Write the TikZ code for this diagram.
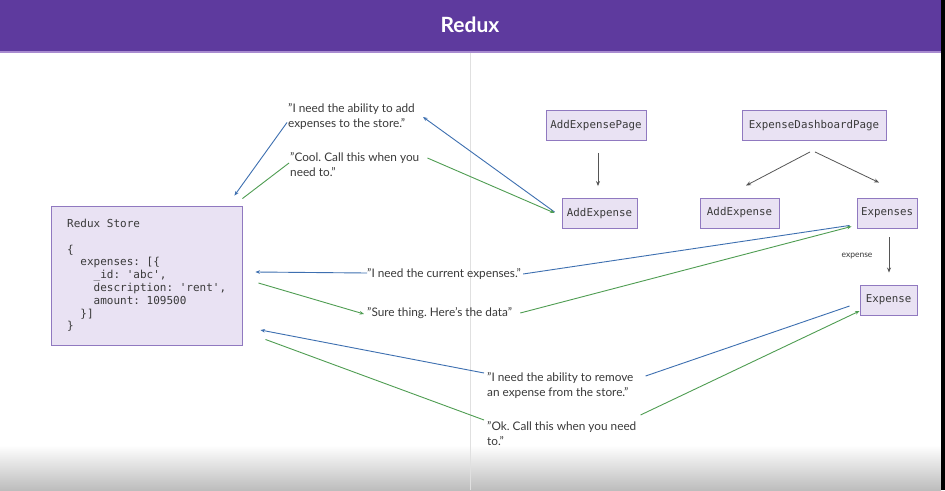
\documentclass[tikz,border=0pt]{standalone}
\usepackage{fontspec}
\setmainfont{Lato}
\newfontfamily\codefont{DejaVu Sans Mono}
\usetikzlibrary{arrows.meta,calc}
\definecolor{hdr}{HTML}{5E3A9E}
\definecolor{hdrline}{HTML}{A88BD0}
\definecolor{boxfill}{HTML}{E9E2F3}
\definecolor{boxdraw}{HTML}{9079C0}
\definecolor{bluel}{HTML}{3D6FB0}
\definecolor{greenl}{HTML}{4F9D52}
\definecolor{txt}{HTML}{3A3A3A}
\definecolor{darr}{HTML}{555555}
\frenchspacing
\begin{document}
\begin{tikzpicture}[x=1pt,y=-1pt,
  compbox/.style={draw=boxdraw,fill=boxfill,line width=0.9pt,inner sep=0pt,
    font=\codefont\fontsize{10.8}{12}\selectfont,text=txt,minimum height=30pt},
  quote/.style={inner sep=0pt,anchor=west,align=left,text=txt,
    font=\fontsize{11.8}{15}\selectfont},
  bl/.style={draw=bluel,line width=0.9pt},
  gl/.style={draw=greenl,line width=0.9pt},
  tip/.style={-{Stealth[length=4.5pt,width=3.6pt]}},
  garr/.style={draw=darr,line width=0.8pt,-{Stealth[length=5pt,width=4pt]}}]
\useasboundingbox (0,0) rectangle (945,490);
\fill[white] (0,0) rectangle (945,490);
% bottom shading
\shade[top color=white,bottom color=black!26] (0,445) rectangle (941,490);
% header
\fill[hdr] (0,0) rectangle (941,51);
\fill[hdrline] (0,51) rectangle (941,53);
\node[text=white,font=\fontsize{21}{24}\selectfont\bfseries] (title) at (470,25) {Redux};
% right black strip
\fill[black] (941,0) rectangle (945,490);
% divider
\draw[black!12,line width=1pt] (470.5,53) -- (470.5,490);

% store
\node[compbox,minimum width=191pt,minimum height=139pt] (store) at (146.5,275.5) {};
\node[inner sep=0pt,anchor=north west,align=left,text=txt,
  font=\codefont\fontsize{11}{12.8}\selectfont] (storetext) at (67,219)
  {Redux Store\\[12.8pt]
   \{\\
   \hspace*{1.204em}expenses: [\{\\
   \hspace*{2.408em}\_id: \textquotesingle abc\textquotesingle,\\
   \hspace*{2.408em}description: \textquotesingle rent\textquotesingle,\\
   \hspace*{2.408em}amount: 109500\\
   \hspace*{1.204em}\}]\\
   \}};

% component boxes
\node[compbox,minimum width=100pt] (aep) at (596,125.5) {AddExpensePage};
\node[compbox,minimum width=75pt] (ae1) at (599.5,213.5) {AddExpense};
\node[compbox,minimum width=144pt] (edp) at (814,125.5) {ExpenseDashboardPage};
\node[compbox,minimum width=79pt] (ae2) at (739.5,213) {AddExpense};
\node[compbox,minimum width=60pt] (exps) at (887,213) {Expenses};
\node[compbox,minimum width=57pt] (exp) at (888.5,300) {Expense};

% gray tree arrows
\draw[garr] ([shift={(2,12)}]aep.south) -- ([shift={(-1.5,-12)}]ae1.north);
\draw[garr] ([shift={(-4,11)}]edp.south) -- ([shift={(6.5,-12)}]ae2.north);
\draw[garr] ([shift={(1,11)}]edp.south) -- ([shift={(-8,-15)}]exps.north);
\draw[garr] ([shift={(2,9)}]exps.south) -- ([shift={(0.5,-12)}]exp.north);
\node[inner sep=0pt,text=txt,font=\fontsize{8.5}{10}\selectfont] (explbl) at (857,256) {expense};

% quotes
\node[quote] (q1) at (288,116.5) {"I need the ability to add\\expenses to the store."};
\node[quote] (q2) at (290,165) {"Cool. Call this when you\\need to."};
\node[quote] (q3) at (367,273.5) {"I need the current expenses."};
\node[quote] (q4) at (367,313.5) {"Sure thing. Here's the data"};
\node[quote] (q5) at (487,385.5) {"I need the ability to remove\\an expense from the store."};
\node[quote] (q6) at (487,433.5) {"Ok. Call this when you need\\to."};

% connectors: add expense
\draw[bl,tip] ([shift={(-7,-1.5)}]ae1.west) -- ([shift={(8,0.5)}]q1.east);
\draw[bl,tip] ([shift={(-1,6)}]q1.west) -- ([shift={(-8,-10)}]store.north east);
\draw[gl] ([shift={(0,-7)}]store.north east) -- ([shift={(-1,-2)}]q2.west);
\draw[gl,tip] ([shift={(8,-7)}]q2.east) -- ([shift={(-7,-0.5)}]ae1.west);

% connectors: current expenses
\draw[bl] ([shift={(-7,-3)}]exps.south west) -- ([shift={(2,0.5)}]q3.east);
\draw[bl,tip] ([shift={(0,-0.5)}]q3.west) -- ([shift={(13,-3.5)}]store.east);
\draw[gl,tip] ([shift={(16,7.5)}]store.east) -- ([shift={(-3,0.5)}]q4.west);
\draw[gl,tip] ([shift={(8,-0.5)}]q4.east) -- ([shift={(-5,-2)}]exps.south west);

% connectors: remove expense
\draw[bl] ([shift={(-10,6)}]exp.west) -- ([shift={(12,-9.5)}]q5.east);
\draw[bl,tip] ([shift={(-3,-12.5)}]q5.west) -- ([shift={(18,54.5)}]store.east);
\draw[gl] ([shift={(23,-6)}]store.south east) -- ([shift={(-3,-13.5)}]q6.west);
\draw[gl,tip] ([shift={(4,-18.5)}]q6.east) -- ([shift={(0,11)}]exp.west);
\end{tikzpicture}
\end{document}
